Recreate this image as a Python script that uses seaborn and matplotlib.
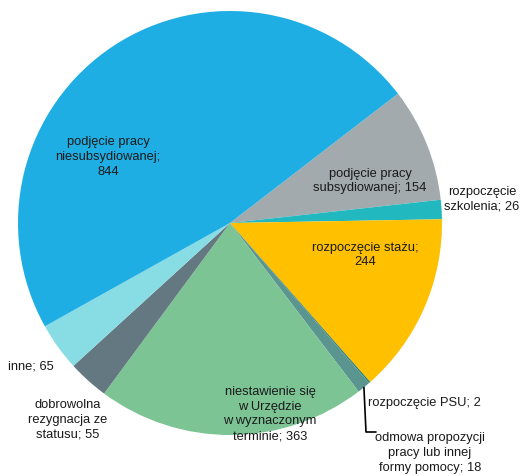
import numpy as np
import matplotlib
matplotlib.use("Agg")
import matplotlib.pyplot as plt
import seaborn as sns

# slices, clockwise starting from the top-right grey wedge
labels = ['podjęcie pracy\nsubsydiowanej; 154', 'rozpoczęcie\nszkolenia; 26', 'rozpoczęcie stażu;\n244',
          'rozpoczęcie PSU; 2', 'odmowa propozycji\npracy lub innej\nformy pomocy; 18',
          'niestawienie się\nw Urzędzie\nw wyznaczonym\nterminie; 363',
          'dobrowolna\nrezygnacja ze\nstatusu; 55', 'inne; 65', 'podjęcie pracy\nniesubsydiowanej;\n844']
values = [154, 26, 244, 2, 18, 363, 55, 65, 844]
colors = ['#A2AAAD', '#22B8BF', '#FFC000', '#2E7D6B', '#5A9590', '#7DC495', '#637880', '#88DCE4', '#1FAEE4']

# label centres in pixels of the 520x477 picture
label_px = [(370, 181), (482, 199), (365, 255), (368, 403), (430, 453),
            (270, 414), (68, 420), (8, 367), (108, 157)]
label_ha = ['center', 'center', 'center', 'left', 'center', 'center', 'center', 'left', 'center']

sns.set_style("white")
plt.rcParams['font.family'] = ['Liberation Sans Narrow', 'Liberation Sans', 'DejaVu Sans']

CX, CY, R = 230, 224, 212
def px(x, y):
    return (x - CX) / R, (CY - y) / R

fig = plt.figure(figsize=(5.2, 4.77), dpi=100)
ax = fig.add_axes([0, 0, 1, 1])
wedges, _ = ax.pie(values, colors=sns.color_palette(colors), startangle=37.6, counterclock=False,
                   radius=1, wedgeprops=dict(linewidth=0))
ax.set_aspect('auto')
ax.set_xlim(-CX / R, (520 - CX) / R)
ax.set_ylim(-(477 - CY) / R, CY / R)
ax.axis('off')

for lab, (x, y), ha in zip(labels, label_px, label_ha):
    tx, ty = px(x, y)
    ax.text(tx, ty, lab, ha=ha, va='center', fontsize=9.3, color='#1a1a1a', linespacing=1.3)

# leader line for the small "odmowa" slice
w = wedges[4]
ang = np.deg2rad((w.theta1 + w.theta2) / 2)
x0, y0 = np.cos(ang), np.sin(ang)
x1, y1 = px(366, 433)
x2, _ = px(376, 433)
ax.plot([x0, x1, x2], [y0, y1, y1], color='black', lw=1.2)

fig.savefig("out.png", dpi=100)
